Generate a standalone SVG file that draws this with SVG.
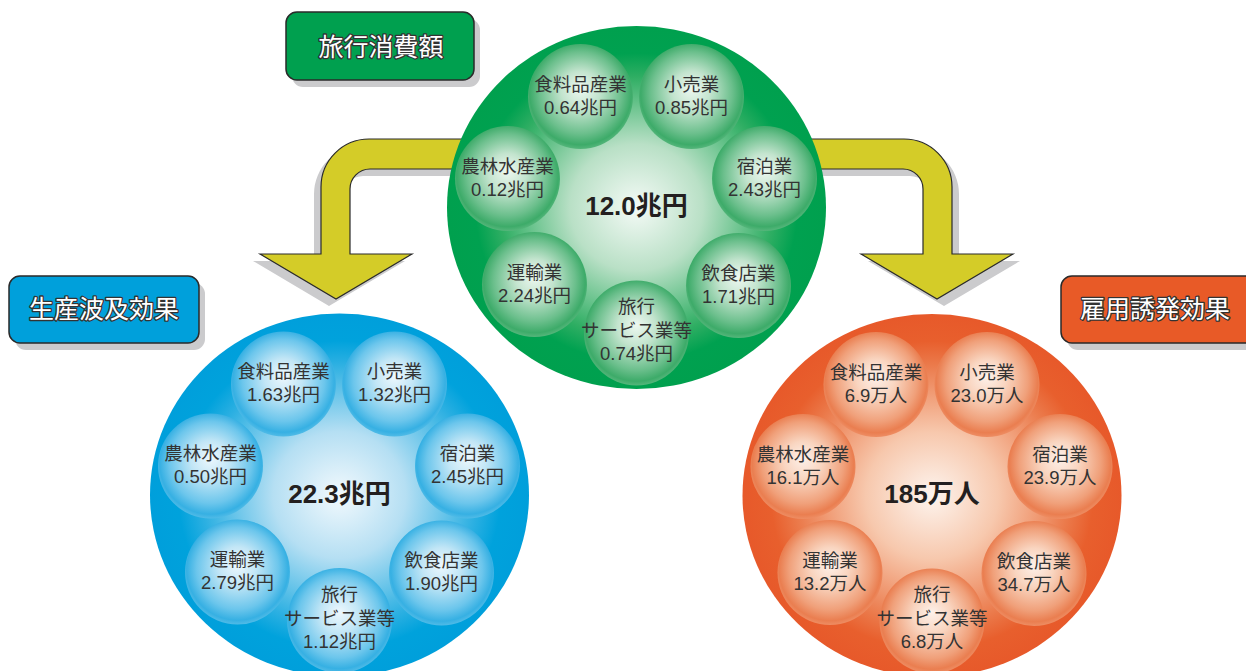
<svg xmlns="http://www.w3.org/2000/svg" width="1246" height="671" viewBox="0 0 1246 671">
<defs>
<radialGradient id="gBig" cx="50%" cy="50%" r="50%">
<stop offset="0" stop-color="#f4faf6"/>
<stop offset="0.35" stop-color="#b9e0c6"/>
<stop offset="0.72" stop-color="#2fae63"/>
<stop offset="0.85" stop-color="#00a150"/>
<stop offset="1" stop-color="#00a04e"/>
</radialGradient>
<radialGradient id="bBig" cx="50%" cy="50%" r="50%">
<stop offset="0" stop-color="#f2f9fd"/>
<stop offset="0.35" stop-color="#b5dff3"/>
<stop offset="0.72" stop-color="#2db0e2"/>
<stop offset="0.85" stop-color="#00a2dc"/>
<stop offset="1" stop-color="#009fdb"/>
</radialGradient>
<radialGradient id="oBig" cx="50%" cy="50%" r="50%">
<stop offset="0" stop-color="#fdf4ee"/>
<stop offset="0.35" stop-color="#f7c8ad"/>
<stop offset="0.72" stop-color="#eb7a4b"/>
<stop offset="0.85" stop-color="#e85f2d"/>
<stop offset="1" stop-color="#e7592a"/>
</radialGradient>
<radialGradient id="gSm" cx="50%" cy="48%" r="52%" fx="50%" fy="42%">
<stop offset="0" stop-color="#eef8f1"/>
<stop offset="0.35" stop-color="#c3e4ce"/>
<stop offset="0.75" stop-color="#6bbf8c"/>
<stop offset="0.93" stop-color="#3dab69"/>
<stop offset="1" stop-color="#55b67b"/>
</radialGradient>
<radialGradient id="bSm" cx="50%" cy="48%" r="52%" fx="50%" fy="42%">
<stop offset="0" stop-color="#eef8fd"/>
<stop offset="0.35" stop-color="#c2e6f6"/>
<stop offset="0.75" stop-color="#6cc6ec"/>
<stop offset="0.93" stop-color="#36b0e3"/>
<stop offset="1" stop-color="#50bbe7"/>
</radialGradient>
<radialGradient id="oSm" cx="50%" cy="48%" r="52%" fx="50%" fy="42%">
<stop offset="0" stop-color="#fdf1ea"/>
<stop offset="0.35" stop-color="#f9d5c0"/>
<stop offset="0.75" stop-color="#f0a07a"/>
<stop offset="0.93" stop-color="#ea7e50"/>
<stop offset="1" stop-color="#ee8d63"/>
</radialGradient>
<path id="arrowShape" d="M560,139 L369,139 A48,48 0 0 0 321,187 L321,254 L260,254 L336,299 L412,254 L350,254 L350,189 A20,20 0 0 1 370,169 L560,169 Z"/>
</defs>
<style>
.shadow{fill:#cbcbcd}
.arrow{fill:#d4cc28;stroke:#2a2a2a;stroke-width:1.2}
.box{stroke:#2a2a2a;stroke-width:1.5}
.lbl{font-family:"Noto Sans CJK JP","Noto Sans",sans-serif;font-size:25px;fill:#ffffff;stroke:#333333;stroke-width:2.6;paint-order:stroke;stroke-linejoin:round;text-anchor:middle}
.sm{font-family:"Liberation Sans","Noto Sans CJK JP",sans-serif;font-size:18.5px;fill:#333333;text-anchor:middle}
.big{font-family:"Liberation Sans","Noto Sans CJK JP",sans-serif;font-size:26px;font-weight:bold;fill:#231f20;text-anchor:middle}
</style>
<rect width="1246" height="671" fill="#ffffff"/>

<g id="connectors">
<g id="arrow-left">
<use href="#arrowShape" class="shadow" transform="translate(-7,7)"/>
<use href="#arrowShape" class="arrow"/>
</g>
<g id="arrow-right" transform="translate(1273,0) scale(-1,1)">
<use href="#arrowShape" class="shadow" transform="translate(-7,7)"/>
<use href="#arrowShape" class="arrow"/>
</g>
</g>

<g id="label-travel">
<rect x="292" y="19" width="188" height="68" rx="11" class="shadow"/>
<rect x="286" y="12" width="188" height="68" rx="11" fill="#00a04f" class="box"/>
<text x="381" y="56" class="lbl">旅行消費額</text>
</g>
<g id="label-production">
<rect x="15" y="283" width="190" height="67" rx="11" class="shadow"/>
<rect x="9" y="276" width="190" height="67" rx="11" fill="#00a0db" class="box"/>
<text x="104" y="318" class="lbl">生産波及効果</text>
</g>
<g id="label-employment">
<rect x="1067" y="283" width="200" height="67" rx="11" class="shadow"/>
<rect x="1061" y="276" width="200" height="67" rx="11" fill="#e85a27" class="box"/>
<text x="1155" y="318" class="lbl">雇用誘発効果</text>
</g>

<g id="node-green">
<ellipse cx="636.5" cy="207.5" rx="189.5" ry="181.5" fill="url(#gBig)"/>
<g fill="url(#gSm)">
<circle cx="580.5" cy="96.5" r="52.5"/>
<circle cx="691.5" cy="96.5" r="52.5"/>
<circle cx="764.5" cy="178.5" r="52.5"/>
<circle cx="738.5" cy="285.5" r="52.5"/>
<circle cx="636.5" cy="333" r="52.5"/>
<circle cx="534.5" cy="284.5" r="52.5"/>
<circle cx="507.5" cy="178.5" r="52.5"/>
</g>
<text class="sm" x="580.5" y="90.5">食料品産業</text><text class="sm" x="580.5" y="113.5">0.64兆円</text>
<text class="sm" x="691.5" y="90.5">小売業</text><text class="sm" x="691.5" y="113.5">0.85兆円</text>
<text class="sm" x="764.5" y="172.5">宿泊業</text><text class="sm" x="764.5" y="195.5">2.43兆円</text>
<text class="sm" x="738.5" y="279.5">飲食店業</text><text class="sm" x="738.5" y="302.5">1.71兆円</text>
<text class="sm" x="636.5" y="313">旅行</text><text class="sm" x="636.5" y="337">サービス業等</text><text class="sm" x="636.5" y="360">0.74兆円</text>
<text class="sm" x="534.5" y="278.5">運輸業</text><text class="sm" x="534.5" y="301.5">2.24兆円</text>
<text class="sm" x="507.5" y="172.5">農林水産業</text><text class="sm" x="507.5" y="195.5">0.12兆円</text>
<text class="big" x="636.5" y="215">12.0兆円</text>
</g>

<g id="node-blue">
<ellipse cx="339.5" cy="495" rx="189.5" ry="181.5" fill="url(#bBig)"/>
<g fill="url(#bSm)">
<circle cx="283.5" cy="384" r="52.5"/>
<circle cx="394.5" cy="384" r="52.5"/>
<circle cx="467.5" cy="466" r="52.5"/>
<circle cx="441.5" cy="573" r="52.5"/>
<circle cx="339.5" cy="620.5" r="52.5"/>
<circle cx="237.5" cy="572" r="52.5"/>
<circle cx="210.5" cy="466" r="52.5"/>
</g>
<text class="sm" x="283.5" y="378">食料品産業</text><text class="sm" x="283.5" y="401">1.63兆円</text>
<text class="sm" x="394.5" y="378">小売業</text><text class="sm" x="394.5" y="401">1.32兆円</text>
<text class="sm" x="467.5" y="460">宿泊業</text><text class="sm" x="467.5" y="483">2.45兆円</text>
<text class="sm" x="441.5" y="567">飲食店業</text><text class="sm" x="441.5" y="590">1.90兆円</text>
<text class="sm" x="339.5" y="600.5">旅行</text><text class="sm" x="339.5" y="624.5">サービス業等</text><text class="sm" x="339.5" y="647.5">1.12兆円</text>
<text class="sm" x="237.5" y="566">運輸業</text><text class="sm" x="237.5" y="589">2.79兆円</text>
<text class="sm" x="210.5" y="460">農林水産業</text><text class="sm" x="210.5" y="483">0.50兆円</text>
<text class="big" x="339.5" y="503">22.3兆円</text>
</g>

<g id="node-orange">
<ellipse cx="932" cy="495.5" rx="189.5" ry="181.5" fill="url(#oBig)"/>
<g fill="url(#oSm)">
<circle cx="876" cy="384.5" r="52.5"/>
<circle cx="987" cy="384.5" r="52.5"/>
<circle cx="1060" cy="466.5" r="52.5"/>
<circle cx="1034" cy="573.5" r="52.5"/>
<circle cx="932" cy="621" r="52.5"/>
<circle cx="830" cy="572.5" r="52.5"/>
<circle cx="803" cy="466.5" r="52.5"/>
</g>
<text class="sm" x="876" y="378.5">食料品産業</text><text class="sm" x="876" y="401.5">6.9万人</text>
<text class="sm" x="987" y="378.5">小売業</text><text class="sm" x="987" y="401.5">23.0万人</text>
<text class="sm" x="1060" y="460.5">宿泊業</text><text class="sm" x="1060" y="483.5">23.9万人</text>
<text class="sm" x="1034" y="567.5">飲食店業</text><text class="sm" x="1034" y="590.5">34.7万人</text>
<text class="sm" x="932" y="601">旅行</text><text class="sm" x="932" y="625">サービス業等</text><text class="sm" x="932" y="648">6.8万人</text>
<text class="sm" x="830" y="566.5">運輸業</text><text class="sm" x="830" y="589.5">13.2万人</text>
<text class="sm" x="803" y="460.5">農林水産業</text><text class="sm" x="803" y="483.5">16.1万人</text>
<text class="big" x="932" y="503">185万人</text>
</g>
</svg>
